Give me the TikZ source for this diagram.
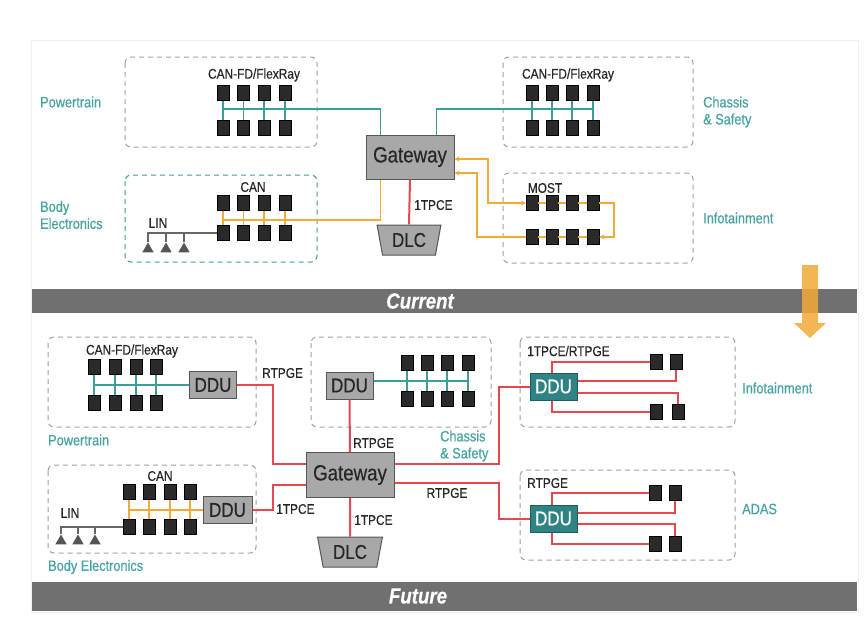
\documentclass[tikz,border=0pt]{standalone}
\usepackage{fontspec}
\setmainfont{Liberation Sans}[FakeStretch=0.85,FakeBold=0.4]
\usetikzlibrary{calc,arrows.meta,shapes.geometric}
\definecolor{teal1}{HTML}{3E9C9A}
\definecolor{tealtxt}{HTML}{45A3A0}
\definecolor{red1}{HTML}{E5484F}
\definecolor{org}{HTML}{F2AA38}
\definecolor{ecuc}{HTML}{2A2A2A}
\definecolor{gwfill}{HTML}{A8A8A8}
\definecolor{gwdraw}{HTML}{555555}
\definecolor{barc}{HTML}{707070}
\definecolor{dduteal}{HTML}{2F8384}
\definecolor{zonec}{HTML}{A0A0A0}
\tikzset{
  ecu/.style={rectangle,fill=ecuc,draw=black,line width=0.4pt,minimum width=12pt,minimum height=15pt,inner sep=0pt},
  gwbox/.style={rectangle,draw=gwdraw,fill=gwfill,line width=1pt,minimum width=88pt,minimum height=44pt,inner sep=0pt,text=black!85,font=\fontsize{22}{23}\selectfont},
  ddubox/.style={rectangle,draw=gwdraw,fill=gwfill,line width=1pt,minimum width=47pt,minimum height=27pt,inner sep=0pt,text=black!85,font=\fontsize{20}{21}\selectfont},
  ddutbox/.style={rectangle,draw=dduteal!70!black,fill=dduteal,text=white,line width=1pt,minimum width=47pt,minimum height=27pt,inner sep=0pt,font=\fontsize{20}{21}\selectfont},
  dlcbox/.style={trapezium,trapezium stretches=true,shape border rotate=180,trapezium angle=76,draw=gwdraw,fill=gwfill,line width=1pt,minimum width=64pt,minimum height=30pt,inner sep=0pt,text=black!85,font=\fontsize{20}{21}\selectfont},
  zone/.style={draw=zonec,line width=1pt,dash pattern=on 5pt off 4pt,rounded corners=6pt},
  tzone/.style={draw=teal1,line width=1pt,dash pattern=on 5pt off 4pt,rounded corners=6pt},
  tealline/.style={draw=teal1,line width=1.5pt},
  orgline/.style={draw=org,line width=1.5pt},
  redline/.style={draw=red1,line width=2pt},
  linline/.style={draw=gray!80!black,line width=1.6pt},
  lintri/.style={regular polygon,regular polygon sides=3,fill=ecuc!80,minimum size=13pt,inner sep=0pt},
  zlabel/.style={text=tealtxt,font=\fontsize{15}{17}\selectfont,align=left,anchor=west,inner sep=0pt},
  blabel/.style={text=black!85,font=\fontsize{14}{15}\selectfont,inner sep=0pt},
  banner/.style={text=white,font=\fontsize{22}{23}\selectfont\bfseries\itshape},
  tip/.style={-{Stealth[length=5pt,width=5pt]}}
}
\begin{document}
\begin{tikzpicture}[x=1pt,y=-1pt]
\useasboundingbox (0,0) rectangle (865,633);
\fill[white] (0,0) rectangle (865,633);
\draw[gray!12,line width=1pt] (31,40) rectangle (858,612);

% ================= CURRENT =================
\draw[zone] (125,57) rectangle (317,147);
\draw[zone] (503,57) rectangle (693,147);
\draw[tzone] (125,175) rectangle (317,262);
\draw[zone] (503,173) rectangle (693,263);

\node[gwbox] (gw1) at (410,157) {Gateway};
\node[dlcbox] (dlc1) at (409,240) {DLC};

\foreach \x [count=\i] in {223,243.5,264,285} {
  \node[ecu] (ptt\i) at (\x,93) {};
  \node[ecu] (ptb\i) at (\x,128) {};
  \node[ecu] (bet\i) at (\x,203) {};
  \node[ecu] (beb\i) at (\x,233) {};
}
\foreach \x [count=\i] in {532,552,572,593} {
  \node[ecu] (cht\i) at (\x,93) {};
  \node[ecu] (chb\i) at (\x,128) {};
  \node[ecu] (mt\i) at (\x,203) {};
  \node[ecu] (mb\i) at (\x,237) {};
}
\foreach \i in {1,...,4} {
  \draw[tealline] (ptt\i) -- (ptb\i);
  \draw[tealline] (cht\i) -- (chb\i);
  \draw[orgline] (bet\i) -- (beb\i);
}
\coordinate (ptbus) at (223,109);
\coordinate (chbus) at (593,109);
\coordinate (bebus) at (223,220);
\draw[tealline] (ptbus) -| ($(gw1.north west)+(15,0)$);
\draw[tealline] ($(gw1.north east)+(-18,0)$) |- (chbus);
\draw[orgline] (bebus) -| ($(gw1.south west)+(15,0)$);
\draw[redline] (gw1.south) -- (dlc1.north);

% LIN (top)
\node[lintri] (lt1) at (148,249) {};
\node[lintri] (lt2) at (166,249) {};
\node[lintri] (lt3) at (184,249) {};
\draw[linline] (beb1.west) -| (lt1.north);
\draw[linline] (lt2.north) -- (lt2.north |- beb1.west);
\draw[linline] (lt3.north) -- (lt3.north |- beb1.west);

% MOST ring
\foreach \i/\j in {1/2,2/3,3/4} {
  \draw[orgline] (mt\i.east) -- (mt\j.west);
  \draw[orgline] (mb\i.east) -- (mb\j.west);
}
\coordinate (bend1) at (488,159);
\coordinate (bend2) at (477,173);
\draw[orgline,{Stealth[length=5pt,width=5pt]}-{Stealth[length=5pt,width=5pt]}] (gw1.east |- bend1) -- (bend1) |- (mt1.west);
\draw[orgline,tip] (mt4.east) -- ++(15,0) |- (mb4.east);
\draw[orgline,tip] (mb1.west) -| (bend2) -- (gw1.east |- bend2);

% labels top
\node[zlabel] (l1) at (40,102) {Powertrain};
\node[zlabel] (l2) at (40,215) {Body\\Electronics};
\node[zlabel] (l3) at (703,112) {Chassis\\\& Safety};
\node[zlabel] (l4) at (703,218) {Infotainment};
\node[blabel] (b1) at (254,75) {CAN-FD/FlexRay};
\node[blabel] (b2) at (568,75) {CAN-FD/FlexRay};
\node[blabel] (b3) at (253,187) {CAN};
\node[blabel] (b4) at (545,188) {MOST};
\node[blabel] (b5) at (158,223) {LIN};
\node[blabel,anchor=west] (b6) at (414,205) {1TPCE};

% banner current
\fill[barc] (32,289) rectangle (857,313);
\node[banner] (cur) at (420,301) {Current};

% orange arrow
\fill[org,opacity=0.85] (802,265) -- (818,265) -- (818,323) -- (826,323) -- (810,338) -- (794,323) -- (802,323) -- cycle;

% ================= FUTURE =================
\draw[zone] (48,337) rectangle (256,427);
\draw[zone] (48,465) rectangle (256,553);
\draw[zone] (311,337) rectangle (491,427);
\draw[zone] (520,337) rectangle (735,427);
\draw[zone] (520,470) rectangle (735,560);

\node[gwbox,minimum height=45pt] (gw2) at (350,475) {Gateway};
\node[dlcbox,minimum width=65pt] (dlc2) at (350,552) {DLC};

\node[ddubox] (ddu1) at (213,385) {DDU};
\node[ddubox,minimum width=49pt] (ddu2) at (227.5,510) {DDU};
\node[ddubox] (ddu3) at (349.5,385.5) {DDU};
\node[ddutbox] (ddu4) at (553.5,386.5) {DDU};
\node[ddutbox] (ddu5) at (553.5,518.5) {DDU};

\foreach \x [count=\i] in {94,115,136,156} {
  \node[ecu] (fpt\i) at (\x,367) {};
  \node[ecu] (fpb\i) at (\x,403) {};
}
\foreach \x [count=\i] in {129,149,170,190} {
  \node[ecu] (fbt\i) at (\x,492) {};
  \node[ecu] (fbb\i) at (\x,527) {};
}
\foreach \x [count=\i] in {407,427,447,468} {
  \node[ecu] (fct\i) at (\x,363) {};
  \node[ecu] (fcb\i) at (\x,399) {};
}
\foreach \i in {1,...,4} {
  \draw[tealline] (fpt\i) -- (fpb\i);
  \draw[orgline] (fbt\i) -- (fbb\i);
  \draw[tealline] (fct\i) -- (fcb\i);
}
\coordinate (fptbus) at (94,385);
\coordinate (fbbus) at (129,510);
\coordinate (fchbus) at (468,381);
\draw[tealline] (fptbus) -- (ddu1.west);
\draw[orgline] (fbbus) -- (ddu2.west);
\draw[tealline] (ddu3.east |- fchbus) -- (fchbus);

% LIN (bottom)
\node[lintri] (lb1) at (61,541) {};
\node[lintri] (lb2) at (78,541) {};
\node[lintri] (lb3) at (95,541) {};
\draw[linline] (fbb1.west) -| (lb1.north);
\draw[linline] (lb2.north) -- (lb2.north |- fbb1.west);
\draw[linline] (lb3.north) -- (lb3.north |- fbb1.west);

% infotainment / ADAS ECUs
\node[ecu] (fi1) at (656,362) {};
\node[ecu] (fi2) at (676,362) {};
\node[ecu] (fi3) at (656,412) {};
\node[ecu] (fi4) at (678,412) {};
\node[ecu] (fa1) at (655,493) {};
\node[ecu] (fa2) at (675,493) {};
\node[ecu] (fa3) at (655,544) {};
\node[ecu] (fa4) at (675,544) {};

% red links
\coordinate (rb1) at (273,464);
\coordinate (rb2) at (273,485);
\coordinate (rb3) at (499,464);
\coordinate (rb4) at (499,483);
\draw[redline] (ddu1.east) -| (rb1) -- (gw2.west |- rb1);
\draw[redline] (ddu2.east) -| (rb2) -- (gw2.west |- rb2);
\draw[redline] (ddu3.south) -- (gw2.north);
\draw[redline] (gw2.south) -- (dlc2.north);
\draw[redline] (gw2.east |- rb3) -- (rb3) |- (ddu4.west);
\draw[redline] (gw2.east |- rb4) -- (rb4) |- (ddu5.west);

\draw[redline] ($(ddu4.north)+(-1.5,0)$) |- (fi1.west);
\draw[redline] ($(ddu4.east)+(0,-5.5)$) -| (fi2.south);
\draw[redline] ($(ddu4.east)+(0,6.5)$) -| (fi4.north);
\draw[redline] ($(ddu4.south)+(-1.5,0)$) |- (fi3.west);
\draw[redline] ($(ddu5.north)+(-1.5,0)$) |- (fa1.west);
\draw[redline] ($(ddu5.east)+(0,-5.5)$) -| (fa2.south);
\draw[redline] ($(ddu5.east)+(0,5.5)$) -| (fa4.north);
\draw[redline] ($(ddu5.south)+(-1.5,0)$) |- (fa3.west);

% labels bottom
\node[zlabel] (l5) at (48,440) {Powertrain};
\node[zlabel] (l6) at (48,567) {Body Electronics};
\node[zlabel] (l7) at (440,446) {Chassis\\\& Safety};
\node[zlabel] (l8) at (742,388) {Infotainment};
\node[zlabel] (l9) at (742,509) {ADAS};
\node[blabel] (c1) at (132,351) {CAN-FD/FlexRay};
\node[blabel] (c2) at (160,476) {CAN};
\node[blabel] (c3) at (70,513) {LIN};
\node[blabel,anchor=west] (c4) at (262,373) {RTPGE};
\node[blabel,anchor=west] (c5) at (276,509) {1TPCE};
\node[blabel,anchor=west] (c6) at (353,443) {RTPGE};
\node[blabel,anchor=west] (c7) at (354,520) {1TPCE};
\node[blabel] (c8) at (447,493) {RTPGE};
\node[blabel,anchor=west] (c9) at (527,351) {1TPCE/RTPGE};
\node[blabel,anchor=west] (c10) at (527,483) {RTPGE};

% banner future
\fill[barc] (32,582) rectangle (857,611);
\node[banner] (fut) at (418,596) {Future};
\end{tikzpicture}
\end{document}
